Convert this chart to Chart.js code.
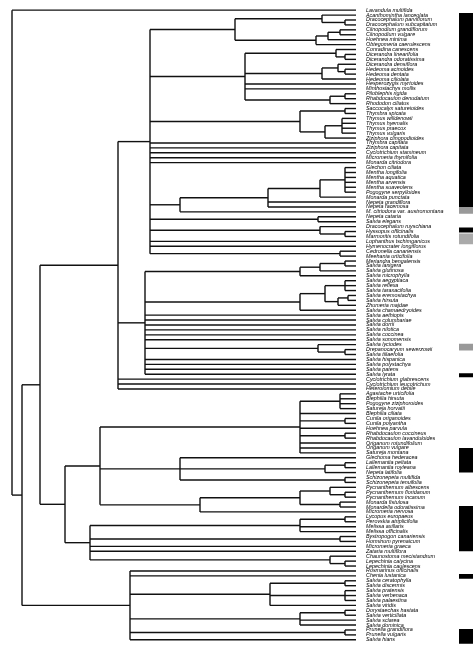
<!DOCTYPE html>
<html>
<head>
<meta charset="utf-8">
<script src="https://cdn.jsdelivr.net/npm/chart.js@4.4.1/dist/chart.umd.min.js"></script>
<style>
html, body { margin: 0; background: #fff; }
#wrap { width: 474px; height: 649px; }
</style>
</head>
<body>
<div id="wrap"><canvas id="Chart"></canvas></div>
<script>
const taxa = [
    'Lavandula multifida', 'Acanthomintha lanceolata', 'Dracocephalum parviflorum', 'Dracocephalum subcapitatum',
    'Clinopodium grandiflorum', 'Clinopodium vulgare', 'Hoehnea minima', 'Obtegomeria caerulescens',
    'Conradina canescens', 'Dicerandra linearifolia', 'Dicerandra odoratissima', 'Dicerandra densiflora',
    'Hedeoma acinoides', 'Hedeoma dentata', 'Hedeoma ciliolata', 'Hesperozygis myrtoides',
    'Minthostachys mollis', 'Piloblephis rigida', 'Rhabdocaulon denudatum', 'Rhododon ciliatus',
    'Saccocalyx satureioides', 'Thymbra spicata', 'Thymus willdenowii', 'Thymus hyemalis',
    'Thymus praecox', 'Thymus vulgaris', 'Ziziphora clinopodioides', 'Thymbra capitata',
    'Ziziphora capitata', 'Cyclotrichium stamineum', 'Micromeria thymifolia', 'Monarda citriodora',
    'Glechon ciliata', 'Mentha longifolia', 'Mentha aquatica', 'Mentha arvensis',
    'Mentha suaveolens', 'Pogogyne serpylloides', 'Monarda punctata', 'Nepeta grandiflora',
    'Nepeta racemosa', 'M. citriodora var. austromontana', 'Nepeta cataria', 'Salvia elegans',
    'Dracocephalum ruyschiana', 'Hyssopus officinalis', 'Marmoritis rotundifolia', 'Lophanthus tschimganicus',
    'Hymenocrater longiflorus', 'Cedronella canariensis', 'Meehania urticifolia', 'Meriandra bengalensis',
    'Salvia lanigera', 'Salvia glutinosa', 'Salvia microphylla', 'Salvia aegyptiaca',
    'Salvia reflexa', 'Salvia taraxacifolia', 'Salvia eremostachya', 'Salvia hirsuta',
    'Zhumeria majdae', 'Salvia chamaedryoides', 'Salvia aethiopis', 'Salvia columbariae',
    'Salvia dorrii', 'Salvia nilotica', 'Salvia coccinea', 'Salvia sonomensis',
    'Salvia lyciodes', 'Drepanocaryum sewerzowii', 'Salvia tiliaefolia', 'Salvia hispanica',
    'Salvia polystachya', 'Salvia patens', 'Salvia lyrata', 'Cyclotrichium glabrescens',
    'Cyclotrichium leucotrichum', 'Heterolomium debile', 'Agastache urticifolia', 'Blephilia hirsuta',
    'Pogogyne ziziphoroides', 'Satureja horvatii', 'Blephilia ciliata', 'Cunila origanoides',
    'Cunila polyantha', 'Hoehnea parvula', 'Rhabdocaulon coccineus', 'Rhabdocaulon lavanduloides',
    'Origanum rotundifolium', 'Origanum vulgare', 'Satureja montana', 'Glechoma hederacea',
    'Lallemantia peltata', 'Lallemantia royleana', 'Nepeta latifolia', 'Schizonepeta multifida',
    'Schizonepeta tenuifolia', 'Pycnanthemum albescens', 'Pycnanthemum floridanum', 'Pycnanthemum incanum',
    'Monarda fistulosa', 'Monardella odoratissima', 'Micromeria nervosa', 'Lycopus europaeus',
    'Perovskia atriplicifolia', 'Melissa axillaris', 'Melissa officinalis', 'Bystropogon canariensis',
    'Horminum pyrenaicum', 'Micromeria graeca', 'Zataria multiflora', 'Chaunostoma mecistandrum',
    'Lepechinia calycina', 'Lepechinia caulescens', 'Rosmarinus officinalis', 'Chenia lustanica',
    'Salvia ceratophylla', 'Salvia discermis', 'Salvia pratensis', 'Salvia verbenaca',
    'Salvia palaestina', 'Salvia viridis', 'Dorystaechas hastata', 'Salvia verticillata',
    'Salvia sclarea', 'Salvia dominica', 'Prunella grandiflora', 'Prunella vulgaris',
    'Salvia hians'
];

// topology: leaves are indices into taxa, the number after ')' is the node depth
const tree =
    '(0,(((' +
        '(((1,(2,3)345)322,(((4,5)340,6)328,7)316)235,' +
        '((8,(9,10)345)336,((11,(12,13)345)338,14)322,15,16,((17,18)345,19)330)245,' +
        '((20,21)345,((22,23,24,25)342,26)325)300,27,28,29,30,31,' +
        '((((32,33,34,35,36,37)345,38)320,39,40)268,41)180,' +
        '(42,43)318,(44,(45,46)345)320,47,48,(49,50)340)150,' +
        '((((51,52)345,53)320,54)300,((((55,56,57)345,((58,59)348,60)338)325,61)300)200,' +
        '62,63,64,65,66,67,(68,(69,70)345)318,71,72,73,74)145,' +
        '75,76,77)118,' +
        '((((78,79,80,81)340,82,(83,84)345,85,(86,87)345,88,89,90)300,' +
        '(91,((92,93)345,94)325,(95,96)345)180,' +
        '(((97,(98,99)345)330,(100,101)340)300,102)200)100,' +
        '(((103,104)345,105,106)300,(107,108)340,109,110,(111,(112,113)345)330)90)65' +
        ')40,' +
    '(114,115,((116,117)345,(118,119,120)345,121)270,((122,123)345,124,125)300,(126,127)345,128)130)22)12';

const leafX = 356;

// annotation bars at the right edge, in leaf rows
const barFrom = [0.6, 40, 44.2, 45.4, 67.8, 73.8, 89, 100.8, 114.6, 125.8];
const barTo = [40, 41.4, 45.2, 47.6, 69.2, 74.6, 94, 110, 115.6, 128.8];
const barColour = ['#000', '#999', '#000', '#aaa', '#999', '#000', '#000', '#000', '#000', '#000'];
const barX = 466;

function parse(str) {
    let i = 0;
    function node() {
        if (str[i] === '(') {
            i++;
            const kids = [node()];
            while (str[i] === ',') { i++; kids.push(node()); }
            i++; // ')'
            let num = '';
            while (i < str.length && /[0-9.]/.test(str[i])) num += str[i++];
            return { x: parseFloat(num), kids: kids };
        }
        let num = '';
        while (i < str.length && /[0-9]/.test(str[i])) num += str[i++];
        return { x: leafX, leaf: parseInt(num, 10) };
    }
    return node();
}

const segments = [];
function layout(n) {
    if (n.leaf !== undefined) { n.y = n.leaf; return; }
    n.kids.forEach(layout);
    const ys = n.kids.map(k => k.y);
    n.y = (Math.min(...ys) + Math.max(...ys)) / 2;
    segments.push([{ x: n.x, y: Math.min(...ys) }, { x: n.x, y: Math.max(...ys) }]);
    n.kids.forEach(k => segments.push([{ x: n.x, y: k.y }, { x: k.x, y: k.y }]));
}
layout(parse(tree));

const datasets = segments.map(s => ({
    data: s,
    showLine: true,
    borderColor: '#111',
    borderWidth: 1.4,
    pointRadius: 0,
    clip: false
}));
barFrom.forEach((y0, k) => datasets.push({
    data: [{ x: barX, y: y0 }, { x: barX, y: barTo[k] }],
    showLine: true,
    borderColor: barColour[k],
    borderWidth: 14,
    borderCapStyle: 'butt',
    pointRadius: 0,
    clip: false
}));

new Chart(document.getElementById('Chart'), {
    type: 'scatter',
    data: { datasets: datasets },
    options: {
        responsive: true,
        maintainAspectRatio: false,
        animation: false,
        layout: { padding: 0 },
        plugins: { legend: { display: false }, tooltip: { enabled: false } },
        scales: {
            x: { type: 'linear', min: 0, max: leafX, display: false },
            y: {
                type: 'linear',
                position: 'right',
                reverse: true,
                min: -1,
                max: 128.8,
                grid: { display: false },
                border: { display: false },
                afterBuildTicks: s => { s.ticks = taxa.map((_, i) => ({ value: i })); },
                afterFit: s => { s.width = 118; },
                ticks: {
                    autoSkip: false,
                    padding: 2,
                    color: '#000',
                    font: { family: 'Liberation Sans', size: 5.4, style: 'italic' },
                    callback: v => taxa[v]
                }
            }
        }
    }
});
</script>
</body>
</html>
